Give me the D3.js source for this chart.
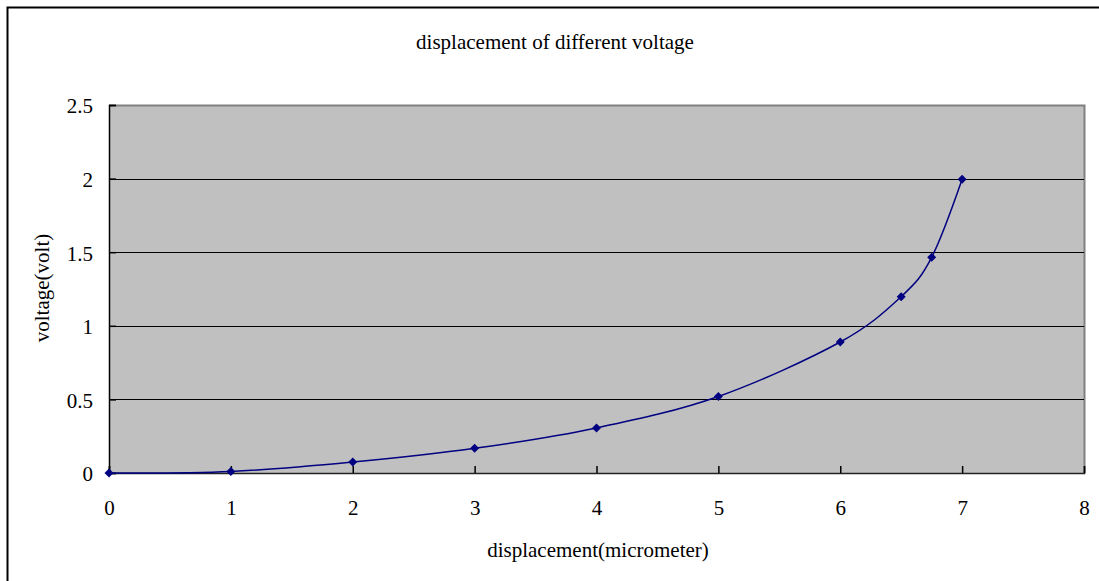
<!DOCTYPE html>
<html>
<head>
<meta charset="utf-8">
<script src="https://cdn.jsdelivr.net/npm/d3@7"></script>
<style>
  html, body { margin: 0; padding: 0; background: #fff; }
  svg { display: block; }
  text { font-family: "Liberation Serif", "DejaVu Serif", serif; fill: #000; }
</style>
</head>
<body>
<svg id="chart" width="1099" height="581"></svg>
<script>
// Measured displacement (micrometer) and the corresponding voltage (volt)
const displacement = [0, 1, 2, 3, 4, 5, 6, 6.5, 6.75, 7];
const voltage = [0, 0.01, 0.075, 0.168, 0.306, 0.52, 0.89, 1.198, 1.465, 1.995];

const xTicks = [0, 1, 2, 3, 4, 5, 6, 7, 8];
const yTicks = [0, 0.5, 1, 1.5, 2, 2.5];

const chartTitle = "displacement of different voltage";
const xTitle = "displacement(micrometer)";
const yTitle = "voltage(volt)";

const points = displacement.map((d, i) => ({ x: d, y: voltage[i] }));

const svg = d3.select("#chart");
const W = 1099, H = 581;
const plot = { left: 109, top: 105, right: 1084, bottom: 473 };
const fontSize = "21px";

// Outer chart frame (runs off the right and bottom edges)
svg.append("rect")
  .attr("x", 7.5).attr("y", 7.5)
  .attr("width", W).attr("height", H)
  .attr("fill", "#fff").attr("stroke", "#000").attr("stroke-width", 2);

const x = d3.scaleLinear().domain([0, 8]).range([plot.left, plot.right]);
const y = d3.scaleLinear().domain([0, 2.5]).range([plot.bottom, plot.top]);

// Plot background
svg.append("rect")
  .attr("x", plot.left).attr("y", plot.top)
  .attr("width", plot.right - plot.left).attr("height", plot.bottom - plot.top)
  .attr("fill", "#c0c0c0");

// Plot area top/right border
svg.append("path")
  .attr("d", `M${plot.left},${plot.top + 0.5}H${plot.right + 0.5}V${plot.bottom}`)
  .attr("fill", "none").attr("stroke", "#808080").attr("stroke-width", 2);

// Horizontal gridlines
svg.append("g")
  .selectAll("line")
  .data(yTicks.filter(t => t > 0 && t < 2.5))
  .join("line")
  .attr("x1", plot.left).attr("x2", plot.right)
  .attr("y1", d => Math.round(y(d)) + 0.5).attr("y2", d => Math.round(y(d)) + 0.5)
  .attr("stroke", "#000").attr("stroke-width", 1);

// Y axis: inward ticks, labels to the left
const yAxis = svg.append("g")
  .attr("transform", `translate(${plot.left},0)`)
  .call(d3.axisRight(y).tickValues(yTicks).tickSize(7).tickFormat(d3.format("")));
yAxis.select(".domain").attr("stroke", "#000").attr("stroke-width", 1.5);
yAxis.selectAll(".tick line").attr("stroke", "#000").attr("stroke-width", 1.5);
yAxis.selectAll(".tick text")
  .attr("x", -16).attr("dy", "0.38em")
  .attr("text-anchor", "end")
  .style("font-family", "Liberation Serif, serif")
  .style("font-size", fontSize);

// X axis: inward ticks, labels below
const xAxis = svg.append("g")
  .attr("transform", `translate(0,${plot.bottom})`)
  .call(d3.axisTop(x).tickValues(xTicks).tickSize(7).tickFormat(d3.format("d")));
xAxis.select(".domain").attr("stroke", "#222").attr("stroke-width", 1.5);
xAxis.selectAll(".tick line").attr("stroke", "#000").attr("stroke-width", 1.5);
xAxis.selectAll(".tick text")
  .attr("y", 42).attr("dy", "0")
  .attr("text-anchor", "middle")
  .style("font-family", "Liberation Serif, serif")
  .style("font-size", fontSize);

// Smoothed data line
const line = d3.line()
  .x(d => x(d.x)).y(d => y(d.y))
  .curve(d3.curveCatmullRom.alpha(0));
svg.append("path")
  .datum(points)
  .attr("d", line)
  .attr("fill", "none")
  .attr("stroke", "#000080")
  .attr("stroke-width", 1.5);

// Diamond markers
svg.append("g")
  .selectAll("path")
  .data(points)
  .join("path")
  .attr("transform", d => `translate(${x(d.x)},${y(d.y)})`)
  .attr("d", "M0,-4.5L4.5,0L0,4.5L-4.5,0Z")
  .attr("fill", "#000080");

// Titles
svg.append("text")
  .attr("x", 555).attr("y", 49)
  .attr("text-anchor", "middle")
  .style("font-size", fontSize)
  .text(chartTitle);

svg.append("text")
  .attr("x", 598).attr("y", 557)
  .attr("text-anchor", "middle")
  .style("font-size", fontSize)
  .text(xTitle);

svg.append("text")
  .attr("transform", `translate(49,288) rotate(-90)`)
  .attr("text-anchor", "middle")
  .style("font-size", fontSize)
  .text(yTitle);
</script>
</body>
</html>
